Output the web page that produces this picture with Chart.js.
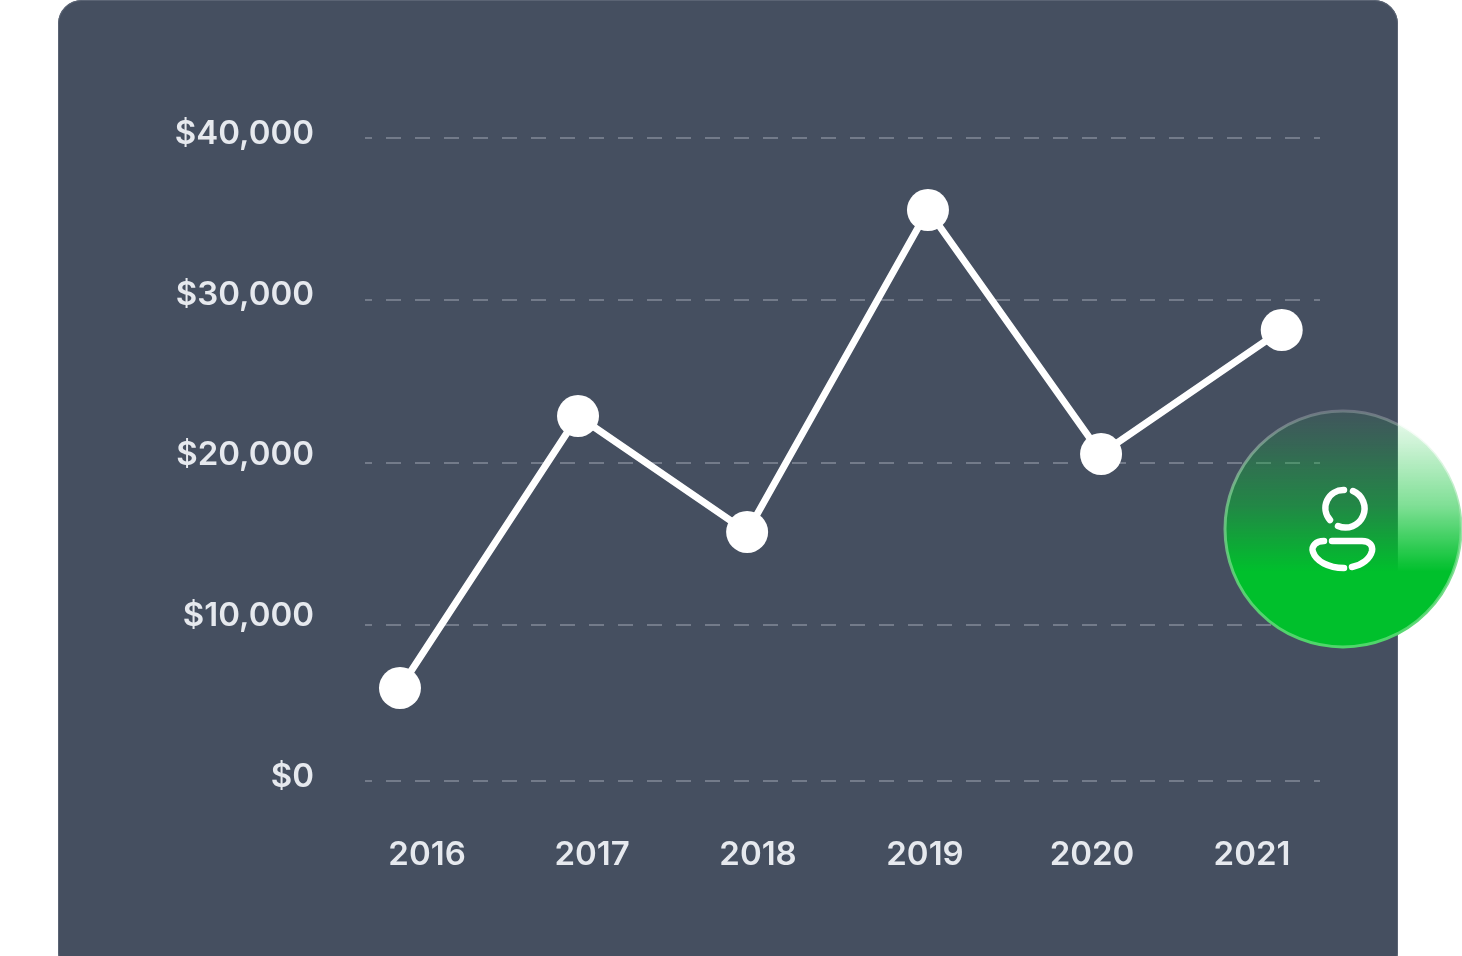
<!DOCTYPE html>
<html>
<head>
<meta charset="utf-8">
<title>Revenue chart</title>
<script src="https://cdn.jsdelivr.net/npm/chart.js@4"></script>
<style>
  html, body { margin: 0; padding: 0; background: #fff; width: 1462px; height: 956px; overflow: hidden; }
  .card { position: absolute; left: 58px; top: 0; width: 1340px; height: 976px; background: #454f60; border-radius: 24px; box-shadow: inset 0 0 0 1px #5b6474; }
  canvas { position: absolute; left: 0; top: 0; }
  .badge { position: absolute; left: 0; top: 0; }
</style>
</head>
<body>
<div class="card"></div>
<canvas id="chart" width="1462" height="956"></canvas>
<svg class="badge" width="1462" height="956" viewBox="0 0 1462 956" fill="none">
  <defs>
    <linearGradient id="fill" x1="0" y1="0" x2="0" y2="1">
      <stop offset="0" stop-color="#00c02c" stop-opacity="0.06"/>
      <stop offset="0.14" stop-color="#00c02c" stop-opacity="0.2"/>
      <stop offset="0.4" stop-color="#00c02c" stop-opacity="0.5"/>
      <stop offset="0.68" stop-color="#00c02c" stop-opacity="1"/>
      <stop offset="1" stop-color="#00c02c" stop-opacity="1"/>
    </linearGradient>
    <linearGradient id="ring" x1="0" y1="0" x2="0" y2="1">
      <stop offset="0" stop-color="#ffffff" stop-opacity="0.22"/>
      <stop offset="0.4" stop-color="#7fdc92" stop-opacity="0.7"/>
      <stop offset="1" stop-color="#4fd66a" stop-opacity="1"/>
    </linearGradient>
  </defs>
  <circle cx="1343" cy="529" r="118" fill="url(#fill)" stroke="url(#ring)" stroke-width="3"/>
  <g stroke="#fff" stroke-width="6.5" stroke-linecap="round">
    <path d="M1353 491 A18 18 0 0 1 1338 526"/>
    <path d="M1330 520 A18 18 0 0 1 1344 490"/>
    <path d="M1332 541 H1362 C1370 541 1373 546 1372 551 C1370 559 1362 565 1352 567"/>
    <path d="M1344 568 C1328 568 1316 561 1313 552 C1311 546 1316 541 1324 541"/>
  </g>
</svg>
<script>
const yearLabels = ['2016', '2017', '2018', '2019', '2020', '2021'];
// labels and dots are not evenly lined up in the picture, so both get their own x
const labelYears = [2016, 2017, 2018.006, 2019.018, 2020.03, 2021];
const pointYears = [2015.836, 2016.915, 2017.94, 2019.036, 2020.085, 2021.18];
const revenue = [5785, 22706, 15490, 35520, 20342, 28056];
const labelTicks = [0, 10000, 20000, 30000, 40000];
const gridTicks = [0, 9705, 19782, 29922, 40000];

const textColor = '#e6e9ee';
const tickFont = { family: 'Inter', size: 33, weight: '600' };

const chart = new Chart(document.getElementById('chart'), {
  type: 'line',
  data: {
    datasets: [{
      data: pointYears.map((year, i) => ({ x: year, y: revenue[i] })),
      borderColor: '#fff',
      borderWidth: 7,
      backgroundColor: '#fff',
      pointRadius: 21,
      pointBackgroundColor: '#fff',
      pointBorderWidth: 0,
      tension: 0
    }]
  },
  options: {
    responsive: false,
    animation: false,
    devicePixelRatio: 1,
    layout: { padding: { top: 138, right: 142 } },
    plugins: { legend: { display: false }, tooltip: { enabled: false } },
    scales: {
      x: {
        type: 'linear',
        min: 2015.624,
        max: 2021.412,
        afterBuildTicks: axis => { axis.ticks = labelYears.map(value => ({ value })); },
        afterFit: axis => { axis.height = 175; },
        grid: { display: false },
        border: { display: false },
        ticks: {
          color: textColor,
          font: tickFont,
          padding: 46,
          maxRotation: 0,
          autoSkip: false,
          callback: (v, i) => yearLabels[i]
        }
      },
      y: {
        min: 0,
        max: 40000,
        afterBuildTicks: axis => { axis.ticks = labelTicks.map(value => ({ value })); },
        afterFit: axis => { axis.width = 365; },
        grid: { display: false },
        border: { display: false },
        ticks: {
          color: textColor,
          font: tickFont,
          padding: 43,
          labelOffset: -4,
          callback: v => '$' + v.toLocaleString('en-US')
        }
      },
      yGrid: {
        position: 'left',
        min: 0,
        max: 40000,
        afterBuildTicks: axis => { axis.ticks = gridTicks.map(value => ({ value })); },
        afterFit: axis => { axis.width = 0; },
        grid: { color: '#737b8a', lineWidth: 2, drawTicks: false },
        border: { display: false, dash: [15, 14], dashOffset: 8 },
        ticks: { display: false }
      }
    }
  }
});
</script>
</body>
</html>
